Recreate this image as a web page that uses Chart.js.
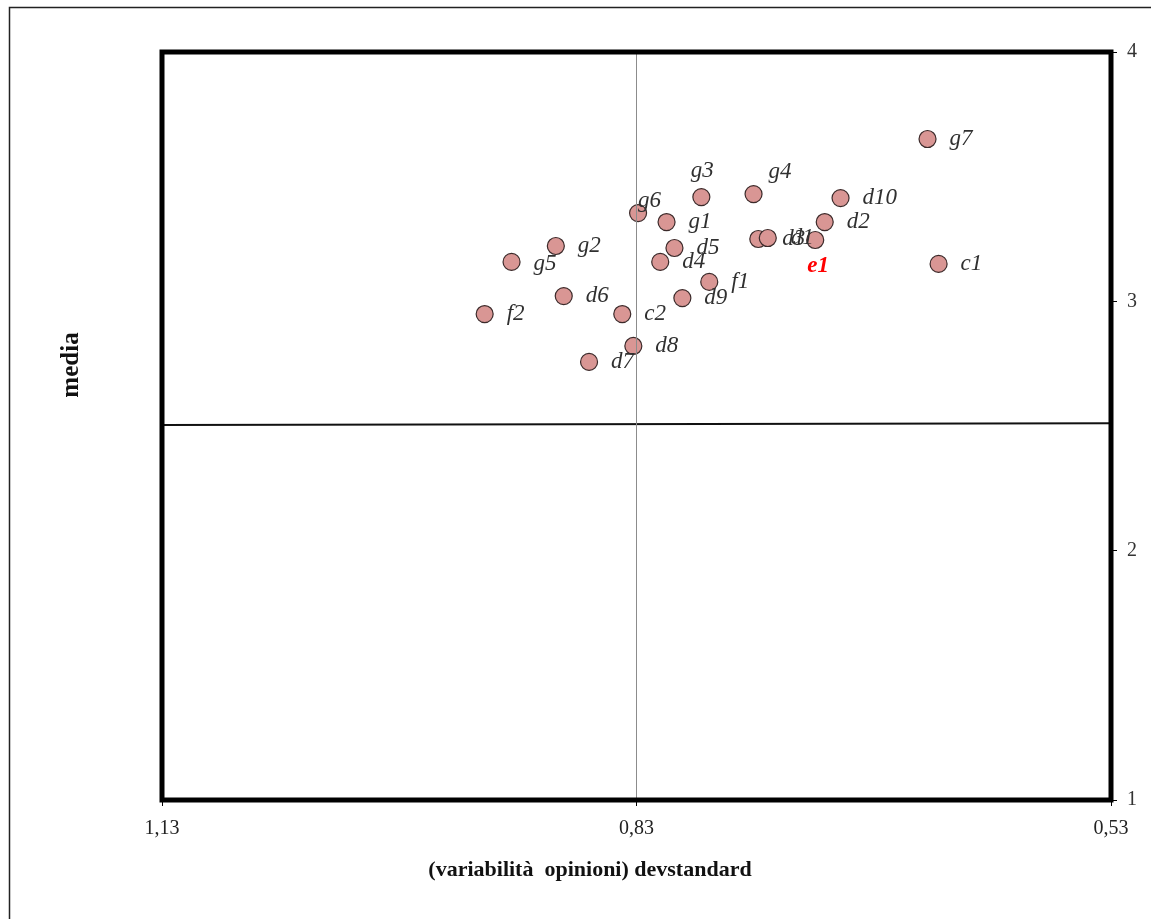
<!DOCTYPE html>
<html>
<head>
<meta charset="utf-8">
<script src="https://cdn.jsdelivr.net/npm/chart.js@4.4.0/dist/chart.umd.min.js"></script>
<style>
html, body { margin: 0; padding: 0; background: #fff; }
#wrap { width: 1151px; height: 919px; }
</style>
</head>
<body>
<div id="wrap"><canvas id="myChart" width="1151" height="919"></canvas></div>
<script>
// dati
const point_labels = ['g7', 'c1', 'd10', 'd2', 'e1', 'g4', 'd3', 'd1', 'g3', 'g6', 'g1',
                      'd5', 'd4', 'f1', 'd9', 'c2', 'd8', 'd7', 'd6', 'g2', 'g5', 'f2'];
const dev_standard = [0.646, 0.639, 0.701, 0.711, 0.717, 0.756, 0.753, 0.747, 0.789, 0.829, 0.811,
                      0.806, 0.815, 0.784, 0.801, 0.839, 0.832, 0.860, 0.876, 0.881, 0.909, 0.926];
const media_values = [3.651, 3.150, 3.414, 3.318, 3.246, 3.430, 3.250, 3.254, 3.418, 3.354, 3.318,
                      3.214, 3.158, 3.078, 3.013, 2.949, 2.821, 2.757, 3.021, 3.222, 3.158, 2.949];
const x_ticks = [1.13, 0.83, 0.53];
const y_ticks = [1, 2, 3, 4];
// linee di riferimento
const v_line_x = [0.83, 0.83];
const v_line_y = [1, 4];
const h_line_x = [1.13, 0.53];
const h_line_y = [2.504, 2.511];

const x_title = '(variabilità  opinioni) devstandard';
const y_title = 'media';

function toPoints(xs, ys){
    let pts = [];
    for(let i = 0; i < xs.length; i += 1){
        pts.push({x: xs[i], y: ys[i]});
    }
    return pts;
}

// spostamento etichette (default a destra del punto)
const label_offset = {
    'g3': [1, -26, 'center'],
    'g4': [15, -22, 'left'],
    'g6': [0, -12, 'left'],
    'e1': [-8, 26, 'left'],
    'g5': [22, 2, 'left'],
    'd3': [24, 0, 'left'],
    'd1': [23, 0, 'left']
};

const frame_plugin = {
    id: 'frame_plugin',
    beforeDraw(chart){
        const ctx = chart.ctx;
        ctx.save();
        ctx.fillStyle = '#fff';
        ctx.fillRect(0, 0, chart.width, chart.height);
        ctx.strokeStyle = '#222';
        ctx.lineWidth = 1.5;
        ctx.beginPath();
        ctx.moveTo(9.5, chart.height + 5);
        ctx.lineTo(9.5, 7.5);
        ctx.lineTo(chart.width + 5, 7.5);
        ctx.stroke();
        ctx.restore();
    },
    afterDatasetsDraw(chart){
        const ctx = chart.ctx;
        const a = chart.chartArea;
        ctx.save();
        // bordo spesso
        ctx.strokeStyle = '#000';
        ctx.lineWidth = 5;
        ctx.strokeRect(a.left, a.top, a.right - a.left, a.bottom - a.top);

        // etichette punti
        const meta = chart.getDatasetMeta(2);
        ctx.textBaseline = 'middle';
        for(let i = 0; i < point_labels.length; i += 1){
            const p = meta.data[i];
            const name = point_labels[i];
            const off = label_offset[name] || [22, 0, 'left'];
            if(name === 'e1'){
                ctx.font = 'italic bold 23px "Liberation Serif"';
                ctx.fillStyle = '#ff0000';
            } else {
                ctx.font = 'italic 23px "Liberation Serif"';
                ctx.fillStyle = '#303030';
            }
            ctx.textAlign = off[2];
            ctx.fillText(name, p.x + off[0], p.y + off[1]);
        }

        // titoli assi
        ctx.fillStyle = '#111';
        ctx.font = 'bold 22px "Liberation Serif"';
        ctx.textAlign = 'center';
        ctx.fillText(x_title, 590, 870);
        ctx.translate(72, 365);
        ctx.rotate(-Math.PI / 2);
        ctx.font = 'bold 25px "Liberation Serif"';
        ctx.fillText(y_title, 0, 0);
        ctx.restore();
    }
};

const ctx = document.getElementById('myChart').getContext('2d');
const myChart = new Chart(ctx, {
    type: 'scatter',
    data: {
        datasets: [{
            label: 'verticale',
            data: toPoints(v_line_x, v_line_y),
            showLine: true,
            borderColor: '#8c8c8c',
            borderWidth: 1,
            pointRadius: 0
        }, {
            label: 'orizzontale',
            data: toPoints(h_line_x, h_line_y),
            showLine: true,
            borderColor: '#111',
            borderWidth: 2,
            pointRadius: 0
        }, {
            label: 'indicatori',
            data: toPoints(dev_standard, media_values),
            backgroundColor: '#d99694',
            borderColor: '#3b2a2a',
            borderWidth: 1.2,
            pointRadius: 8.5,
            pointHoverRadius: 8.5
        }]
    },
    options: {
        responsive: false,
        animation: false,
        devicePixelRatio: 1,
        layout: {
            padding: {left: 162, top: 52, right: 0, bottom: 0}
        },
        plugins: {
            legend: {display: false},
            tooltip: {enabled: false}
        },
        scales: {
            x: {
                type: 'linear',
                reverse: true,
                min: 0.53,
                max: 1.13,
                afterBuildTicks: function(scale){
                    scale.ticks = x_ticks.map(v => ({value: v}));
                },
                afterFit: function(scale){
                    scale.height = 119;
                },
                ticks: {
                    autoSkip: false,
                    maxRotation: 0,
                    padding: 11,
                    color: '#222',
                    font: {family: 'Liberation Serif', size: 20},
                    callback: function(v){
                        return Number(v).toFixed(2).replace('.', ',');
                    }
                },
                grid: {
                    drawOnChartArea: false,
                    drawTicks: true,
                    tickLength: 6,
                    color: '#000',
                    lineWidth: 1
                },
                border: {display: false}
            },
            y: {
                type: 'linear',
                position: 'right',
                min: 1,
                max: 4,
                afterBuildTicks: function(scale){
                    scale.ticks = y_ticks.map(v => ({value: v}));
                },
                afterFit: function(scale){
                    scale.width = 40;
                },
                ticks: {
                    padding: 10,
                    color: '#333',
                    font: {family: 'Liberation Serif', size: 20}
                },
                grid: {
                    drawOnChartArea: false,
                    drawTicks: true,
                    tickLength: 6,
                    color: '#000',
                    lineWidth: 1
                },
                border: {display: false}
            }
        }
    },
    plugins: [frame_plugin]
});
</script>
</body>
</html>
